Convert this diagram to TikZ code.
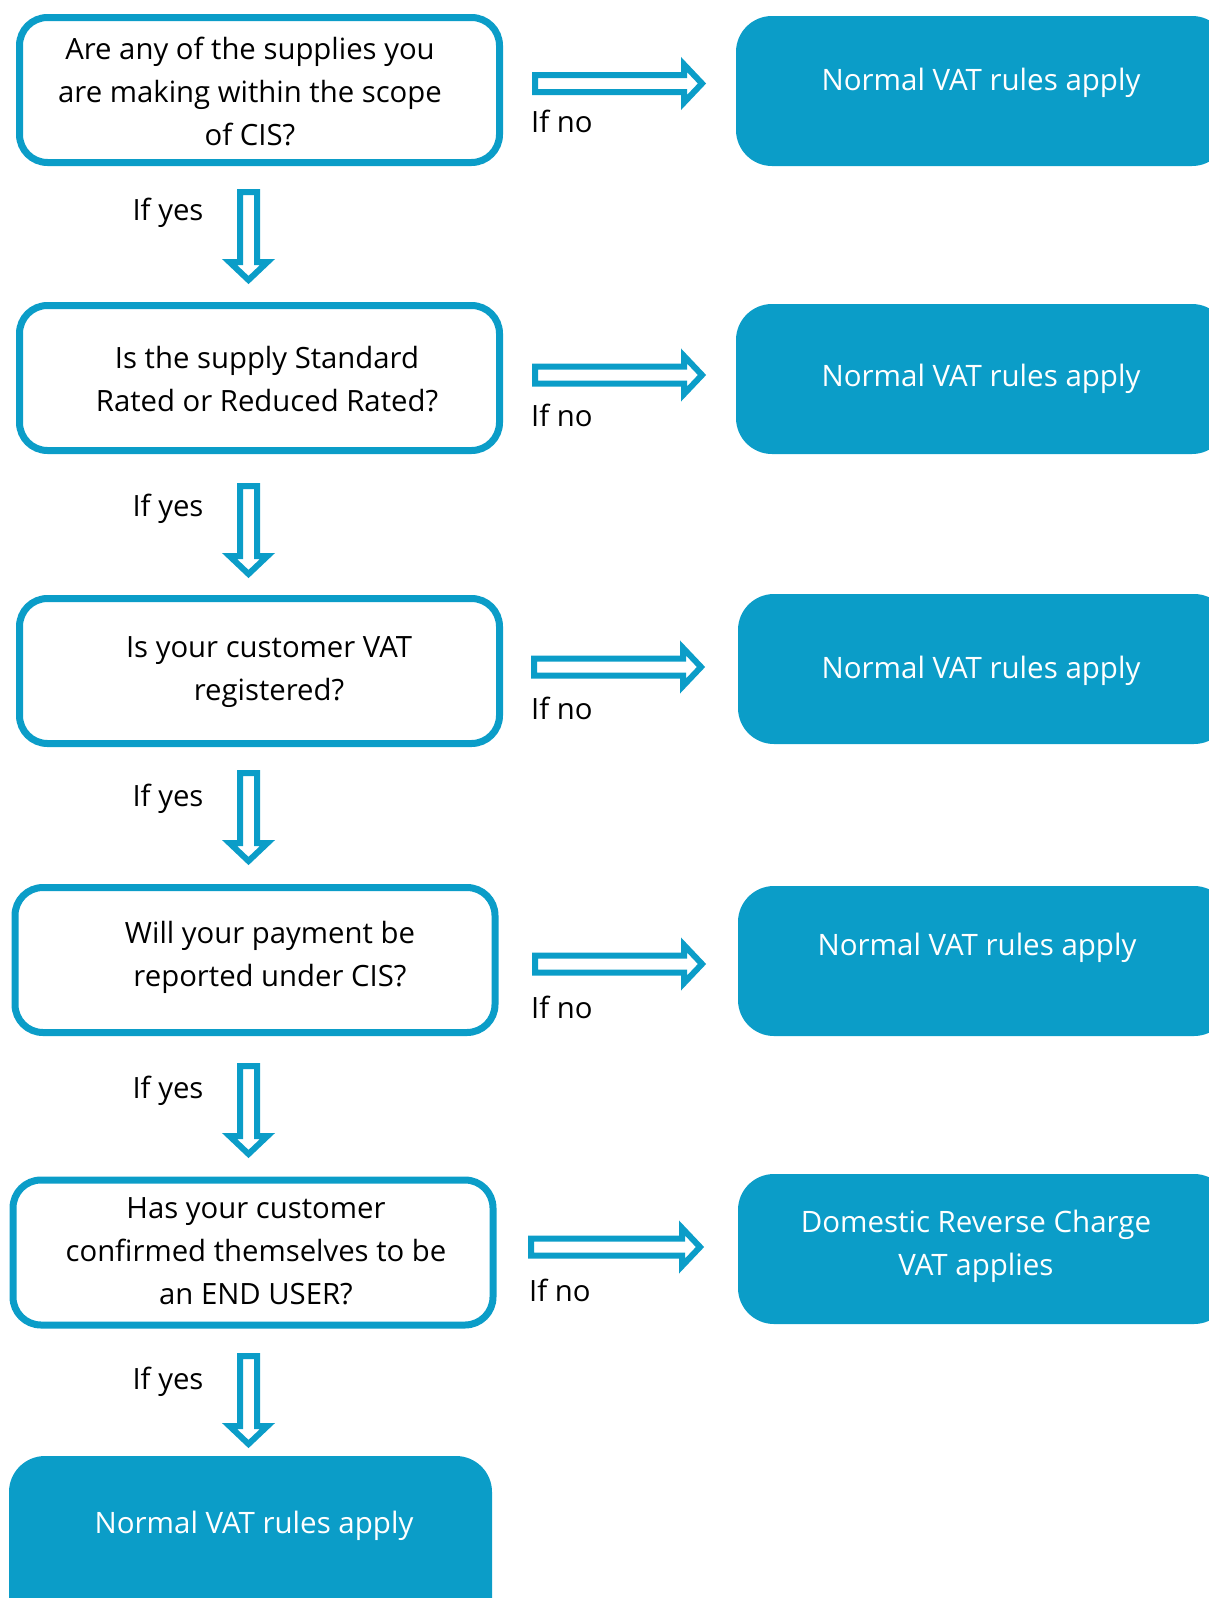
\documentclass[tikz,border=0pt]{standalone}
\usepackage{fontspec}
\setmainfont{Open Sans}
\definecolor{vatblue}{HTML}{0B9DC8}
\tikzset{
 qbox/.style={draw=vatblue, line width=7pt, rounded corners=28pt, fill=white, minimum width=480pt, minimum height=145pt, inner sep=0pt},
 abox/.style={fill=vatblue, rounded corners=36pt, minimum width=492pt, minimum height=150pt, inner sep=0pt},
 qtext/.style={align=center, text=black, inner sep=0pt, font=\fontsize{29.3}{43}\selectfont},
 atext/.style={align=center, text=white, inner sep=0pt, font=\fontsize{29.5}{43}\selectfont},
 lbl/.style={text=black, inner sep=0pt, font=\fontsize{29.3}{34}\selectfont},
 blockarrow/.style={draw=vatblue, line width=6pt, fill=white, line join=miter},
}
\newcommand\rarr[4]{% name, x0 outer, x1 outer tip, y
 \coordinate (#1) at (#2,#4);
 \draw[blockarrow] (#2+3,#4-8.5) -- (#3-21,#4-8.5) -- (#3-21,#4-19) -- (#3-3,#4) -- (#3-21,#4+19) -- (#3-21,#4+8.5) -- (#2+3,#4+8.5) -- cycle;}
\newcommand\darr[4]{% name, x centre, y0 outer, y1 outer tip
 \coordinate (#1) at (#2,#3);
 \draw[blockarrow] (#2-8.5,#3+3) -- (#2-8.5,#4-21) -- (#2-19,#4-21) -- (#2,#4-3) -- (#2+19,#4-21) -- (#2+8.5,#4-21) -- (#2+8.5,#3+3) -- cycle;}
\begin{document}
\begin{tikzpicture}[x=1pt,y=-1pt]
\useasboundingbox (0,0) rectangle (1209,1598);
\clip (0,0) rectangle (1209,1598);

% question boxes
\node[qbox] (q1) at (259.5,90) {};
\node[qbox] (q2) at (259.5,378) {};
\node[qbox] (q3) at (259.5,671) {};
\node[qbox] (q4) at (255,960) {};
\node[qbox] (q5) at (253,1252.5) {};

\node[qtext] (q1t) at (250,91) {Are any of the supplies you\\are making within the scope\\of CIS?};
\node[qtext] (q2t) at (267,379) {Is the supply Standard\\Rated or Reduced Rated?};
\node[qtext] (q3t) at (269,672) {Is your customer VAT\\registered?};
\node[qtext] (q4t) at (270,957) {Will your payment be\\reported under CIS?};
\node[qtext] (q5t) at (256,1251) {Has your customer\\confirmed themselves to be\\an END USER?};

% answer boxes
\node[abox] (a1) at (982,91) {};
\node[abox] (a2) at (982,379) {};
\node[abox] (a3) at (984,669) {};
\node[abox] (a4) at (984,961) {};
\node[abox] (a5) at (984,1249) {};
\node[abox, minimum width=483pt, minimum height=200pt] (f) at (250.5,1556) {};

\node[atext] (a1t) at (981,83) {Normal VAT rules apply};
\node[atext] (a2t) at (981,379) {Normal VAT rules apply};
\node[atext] (a3t) at (981,671) {Normal VAT rules apply};
\node[atext] (a4t) at (977,948) {Normal VAT rules apply};
\node[atext] (a5t) at (976,1246) {Domestic Reverse Charge\\VAT applies};
\node[atext] (ft) at (254,1526) {Normal VAT rules apply};

% horizontal arrows
\rarr{h1}{532}{705}{83.5}
\rarr{h2}{532}{705}{375}
\rarr{h3}{531}{704}{667}
\rarr{h4}{532}{705}{964}
\rarr{h5}{528}{703}{1247}

% vertical arrows
\darr{v1}{248.5}{189}{283}
\darr{v2}{248.5}{483}{577}
\darr{v3}{248.5}{770}{864}
\darr{v4}{248.5}{1063}{1157}
\darr{v5}{248.5}{1353}{1447}

% labels
\node[lbl, anchor=west] (n1) at (531,121) {If no};
\node[lbl, anchor=west] (n2) at (531,415) {If no};
\node[lbl, anchor=west] (n3) at (531,708) {If no};
\node[lbl, anchor=west] (n4) at (531,1007) {If no};
\node[lbl, anchor=west] (n5) at (529,1290) {If no};

\node[lbl] (y1) at (168,213) {If yes};
\node[lbl] (y2) at (168,509) {If yes};
\node[lbl] (y3) at (168,799) {If yes};
\node[lbl] (y4) at (168,1091) {If yes};
\node[lbl] (y5) at (168,1382) {If yes};
\end{tikzpicture}
\end{document}
